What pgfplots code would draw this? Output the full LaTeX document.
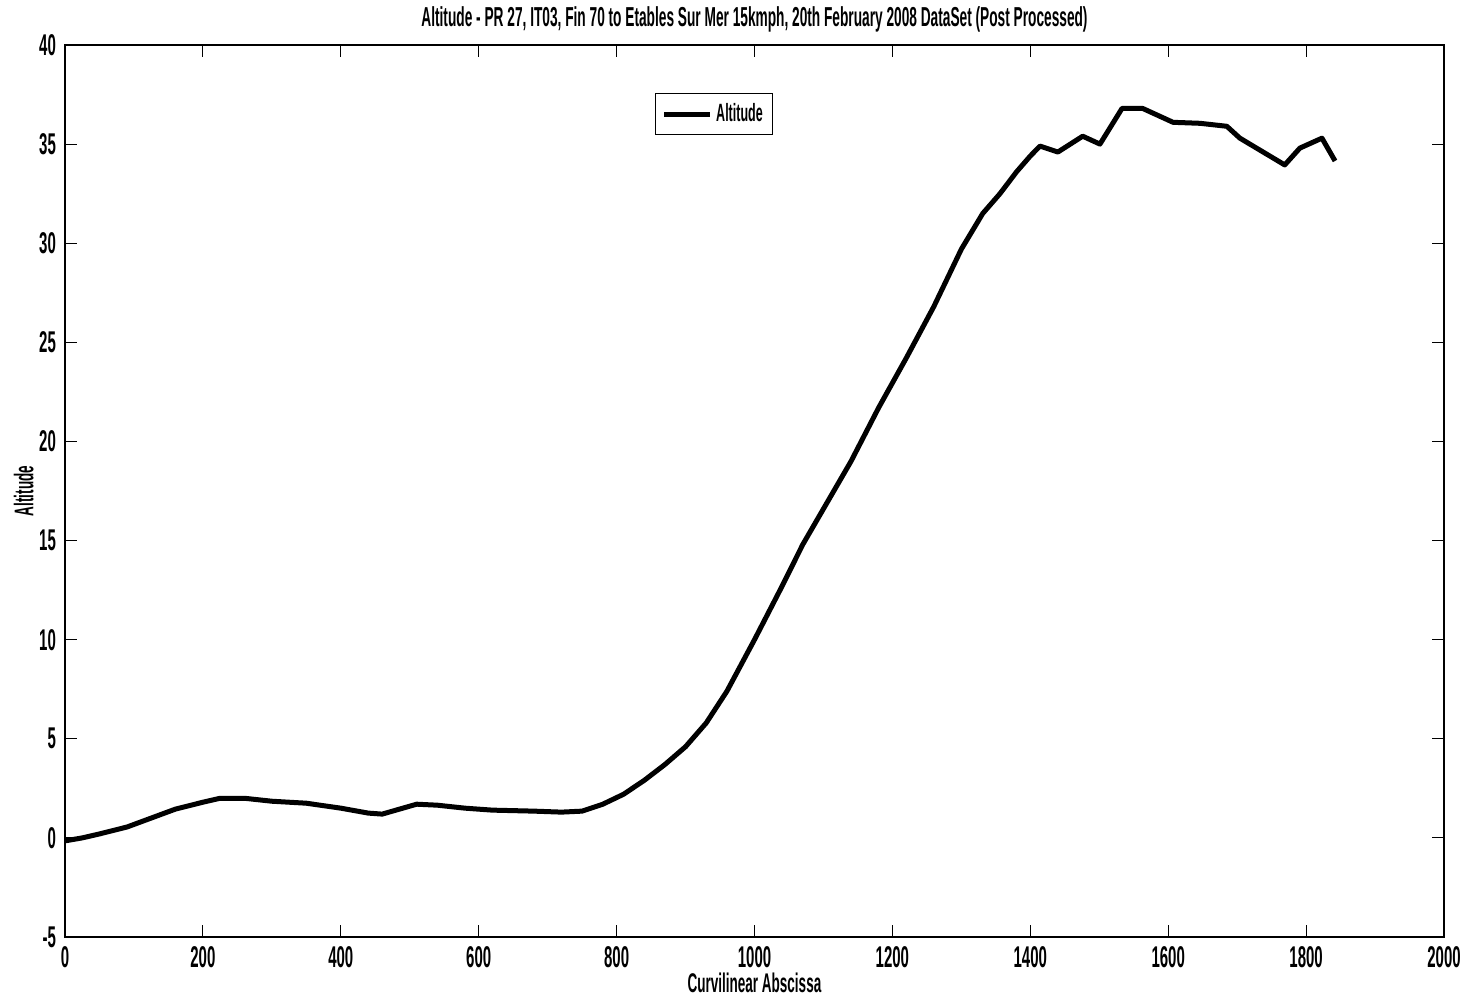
\documentclass[border=0pt]{standalone}
\usepackage{fontspec}
\setmainfont{Liberation Sans}[FakeStretch=0.5]
\usepackage{pgfplots}
\pgfplotsset{compat=1.18}
\begin{document}
\bfseries
\begin{tikzpicture}[x=1pt,y=1pt]
\useasboundingbox (-32.5pt,-30.5pt) rectangle (701pt,468.5pt);
\begin{axis}[
  scale only axis,
  width=689.5pt, height=446pt,
  at={(0,0)}, anchor=south west,
  xmin=0, xmax=2000, ymin=-5, ymax=40,
  xtick={0,200,...,2000},
  ytick={-5,0,...,40},
  tick align=inside,
  major tick length=6pt,
  axis line style={line width=0.8pt},
  tick style={line width=0.5pt, black},
  /pgf/number format/assume math mode=true,
  /pgf/number format/1000 sep={},
  tick label style={font=\fontsize{15}{15}\selectfont\bfseries},
  xticklabel style={yshift=-1pt},
  yticklabel style={xshift=-1pt},
  title={Altitude - PR 27, IT03, Fin 70 to Etables Sur Mer 15kmph, 20th February 2008 DataSet (Post Processed)},
  title style={font=\fontsize{13.7}{13.7}\selectfont\bfseries, yshift=-3pt},
  xlabel={Curvilinear Abscissa},
  ylabel={Altitude},
  label style={font=\fontsize{13.5}{13.5}\selectfont\bfseries},
  xlabel style={yshift=4pt},
  ylabel style={yshift=-4pt},
  legend style={at={(0.428,0.946)}, anchor=north west, draw=black, line width=0.5pt,
    font=\fontsize{12.5}{12.5}\selectfont\bfseries, inner sep=3pt},
  legend cell align=left,
  legend image code/.code={\draw[line width=2.5pt] (0cm,0cm) -- (0.8cm,0cm);},
]
\addplot[black, line width=2.5pt, line join=round] coordinates {
(0,-0.15) (25,0.0) (50,0.2) (90,0.55) (125,1.0) (160,1.45) (200,1.8) (225,2.0) (260,2.0)
(300,1.85) (350,1.75) (400,1.5) (440,1.25) (460,1.2) (480,1.4) (510,1.7) (540,1.65)
(580,1.5) (620,1.4) (680,1.35) (720,1.3) (750,1.35) (780,1.7) (810,2.2) (840,2.9)
(870,3.7) (900,4.6) (930,5.8) (960,7.4) (1000,10.0) (1040,12.7) (1070,14.8) (1100,16.6)
(1140,19.0) (1180,21.7) (1220,24.2) (1260,26.8) (1300,29.7) (1331,31.5) (1356,32.5)
(1380,33.6) (1400,34.4) (1414,34.9) (1440,34.6) (1476,35.4) (1501,35.0) (1533,36.8)
(1563,36.8) (1607,36.1) (1646,36.05) (1685,35.9) (1704,35.3) (1769,33.95) (1791,34.8)
(1823,35.3) (1842,34.15)
};
\addlegendentry{Altitude}
\end{axis}
\end{tikzpicture}
\end{document}
